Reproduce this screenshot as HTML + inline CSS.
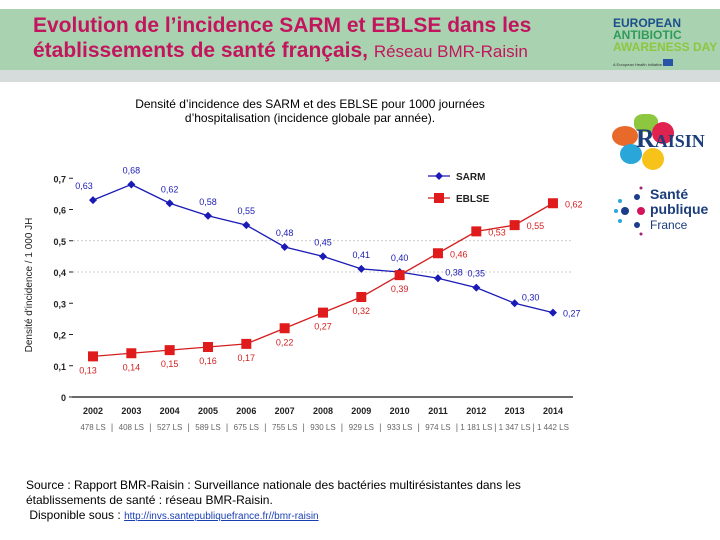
<!DOCTYPE html>
<html><head><meta charset="utf-8"><style>
body{margin:0;width:720px;height:540px;background:#fff;position:relative;overflow:hidden;font-family:"Liberation Sans",sans-serif}
.abs{position:absolute}
</style></head><body>
<div class="abs" style="left:0;top:9px;width:720px;height:61px;background:#a9d3b0"></div>
<div class="abs" style="left:0;top:70px;width:720px;height:12px;background:#d6dcdc"></div>
<div class="abs" style="left:33px;top:13px;color:#c2155e;font-weight:bold;font-size:21px;line-height:25px;letter-spacing:0px">Evolution de l’incidence SARM et EBLSE dans les<br>établissements de santé français, <span style="font-weight:normal;font-size:17px">Réseau BMR-Raisin</span></div>
<div class="abs" style="left:613px;top:17px;font-weight:bold;font-size:12px;line-height:12px">
<div style="color:#1a4f8a">EUROPEAN</div><div style="color:#2e9b5a">ANTIBIOTIC</div><div style="color:#8dc63f">AWARENESS DAY</div>
<div style="font-size:4px;color:#333;margin-top:6px;font-weight:normal">A European Health initiative <span style="display:inline-block;width:10px;height:7px;background:#2854a5"></span></div></div>
<div class="abs" style="left:90px;top:97px;width:440px;text-align:center;font-size:12px;line-height:14px">Densité d’incidence des SARM et des EBLSE pour 1000 journées<br>d’hospitalisation (incidence globale par année).</div>
<div class="abs" style="left:612px;top:112px;width:108px;height:60px">
<div class="abs" style="left:22px;top:2px;width:24px;height:18px;background:#8dc63f;border-radius:40%"></div>
<div class="abs" style="left:0;top:14px;width:26px;height:20px;background:#e86a2a;border-radius:50%"></div>
<div class="abs" style="left:40px;top:10px;width:22px;height:22px;background:#e0224f;border-radius:50%"></div>
<div class="abs" style="left:8px;top:32px;width:22px;height:20px;background:#2aa6d8;border-radius:50%"></div>
<div class="abs" style="left:30px;top:36px;width:22px;height:22px;background:#f7c21a;border-radius:50%"></div>
<div class="abs" style="left:24px;top:12px;font-family:'Liberation Serif',serif;font-weight:bold;font-size:26px;color:#1b3d7a">R<span style="font-size:18px">AISIN</span></div></div>
<div class="abs" style="left:612px;top:183px;width:108px;height:55px">
<svg width="40" height="55" style="position:absolute;left:0;top:0"><circle cx="13" cy="28" r="4" fill="#1b3d8a"/><circle cx="29" cy="28" r="4" fill="#d4145a"/><circle cx="25" cy="14" r="3" fill="#1b3d8a"/><circle cx="25" cy="42" r="3" fill="#1b3d8a"/><circle cx="4" cy="28" r="2" fill="#2aa6d8"/><circle cx="8" cy="18" r="2" fill="#2aa6d8"/><circle cx="8" cy="38" r="2" fill="#2aa6d8"/><circle cx="29" cy="5" r="1.5" fill="#a0227a"/><circle cx="29" cy="51" r="1.5" fill="#a0227a"/></svg>
<div class="abs" style="left:38px;top:4px;font-weight:bold;font-size:14px;line-height:15px;color:#1b3d7a">Santé<br>publique<br><span style="font-weight:normal;font-size:12px">France</span></div></div>
<svg id="chart" class="abs" style="left:0;top:0" width="720" height="540"></svg>
<div class="abs" style="left:26px;top:478px;font-size:12px;line-height:15px">Source : Rapport BMR-Raisin : Surveillance nationale des bactéries multirésistantes dans les<br>établissements de santé : réseau BMR-Raisin.<br>&nbsp;Disponible sous : <a style="color:#1a3fb5;text-decoration:underline;font-size:10px">http://invs.santepubliquefrance.fr//bmr-raisin</a></div>
<script>
const years=["2002","2003","2004","2005","2006","2007","2008","2009","2010","2011","2012","2013","2014"];
const lsCounts=["478 LS","408 LS","527 LS","589 LS","675 LS","755 LS","930 LS","929 LS","933 LS","974 LS","1 181 LS","1 347 LS","1 442 LS"];
const sarm=[0.63,0.68,0.62,0.58,0.55,0.48,0.45,0.41,0.40,0.38,0.35,0.30,0.27];
const eblse=[0.13,0.14,0.15,0.16,0.17,0.22,0.27,0.32,0.39,0.46,0.53,0.55,0.62];
const yTicks=[0,0.1,0.2,0.3,0.4,0.5,0.6,0.7];
const svg=document.getElementById('chart');const NS='http://www.w3.org/2000/svg';
const X=i=>93+i*38.33, Y=v=>397-v*312.5;
function mk(t,a,txt){const e=document.createElementNS(NS,t);for(const k in a)e.setAttribute(k,a[k]);if(txt!==undefined)e.textContent=txt;svg.appendChild(e);return e;}
const fmt=v=>v.toFixed(2).replace('.',',');
yTicks.forEach(v=>{
 if(v===0.4||v===0.5){const g=mk('line',{x1:73,x2:573,y1:Y(v),y2:Y(v),stroke:'#bbb','stroke-dasharray':'2,2','stroke-width':0.7});
 }
 const t=mk('text',{x:66,y:Y(v)+4,'text-anchor':'end','font-size':9,'font-weight':'bold',fill:'#222'},v===0?'0':v.toFixed(1).replace('.',','));
 
 const tk=mk('line',{x1:69,x2:73,y1:Y(v),y2:Y(v),stroke:'#222'});
 
});
const ax=mk('line',{x1:72,x2:573,y1:Y(0),y2:Y(0),stroke:'#111','stroke-width':1.2});

const yt=mk('text',{x:0,y:0,transform:'translate(32,285) rotate(-90)','text-anchor':'middle','font-size':10,fill:'#222'},"Densité d'incidence / 1 000 JH");

years.forEach((y,i)=>{
 const t=mk('text',{x:X(i),y:414,'text-anchor':'middle','font-size':9,'font-weight':'bold',fill:'#222'},y);
 
 const l=mk('text',{x:X(i),y:430,'text-anchor':'middle','font-size':8,fill:'#666'},lsCounts[i]);
 
 if(i<years.length-1){const s=mk('text',{x:X(i)+19,y:430,'text-anchor':'middle','font-size':9,fill:'#666'},'|');
 }
});
const pl=(arr)=>arr.map((v,i)=>X(i)+','+Y(v)).join(' ');
const l1=mk('polyline',{points:pl(sarm),fill:'none',stroke:'#1a1ab5','stroke-width':1.3});

const l2=mk('polyline',{points:pl(eblse),fill:'none',stroke:'#d41f1f','stroke-width':1.3});

sarm.forEach((v,i)=>{
 const x=X(i),y=Y(v);
 const p=mk('polygon',{points:`${x},${y-4} ${x+4},${y} ${x},${y+4} ${x-4},${y}`,fill:'#1a1ab5'});
 
 const right=i===12;
 const t=mk('text',{x:right?x+10:x,y:right?y+4:(i===9||i===11?y-3:y-11),'text-anchor':right?'start':'middle','font-size':9,fill:'#1a1ab5'},fmt(v));
 if(i===9||i===11)t.setAttribute('x',x+16);
 if(i===0)t.setAttribute('x',x-9);
 
});
eblse.forEach((v,i)=>{
 const x=X(i),y=Y(v);
 const r=mk('rect',{x:x-5,y:y-5,width:10,height:10,fill:'#e01b1b'});
 
 let tx=x,ty=y+17,anc='middle';
 if(i>=9){tx=x+12;ty=y+4;anc='start';}
 if(i===0)tx=x-5;
 const t=mk('text',{x:tx,y:ty,'text-anchor':anc,'font-size':9,fill:'#d41f1f'},fmt(v));
 
});
const g1=mk('line',{x1:428,x2:450,y1:176,y2:176,stroke:'#1a1ab5','stroke-width':1.3});

const g1p=mk('polygon',{points:'439,172 443,176 439,180 435,176',fill:'#1a1ab5'});

const g1t=mk('text',{x:456,y:180,'font-size':10,'font-weight':'bold',fill:'#222'},'SARM');

const g2=mk('line',{x1:428,x2:450,y1:198,y2:198,stroke:'#d41f1f','stroke-width':1.3});

const g2p=mk('rect',{x:434,y:193,width:10,height:10,fill:'#e01b1b'});

const g2t=mk('text',{x:456,y:202,'font-size':10,'font-weight':'bold',fill:'#222'},'EBLSE');

</script>
</body></html>
